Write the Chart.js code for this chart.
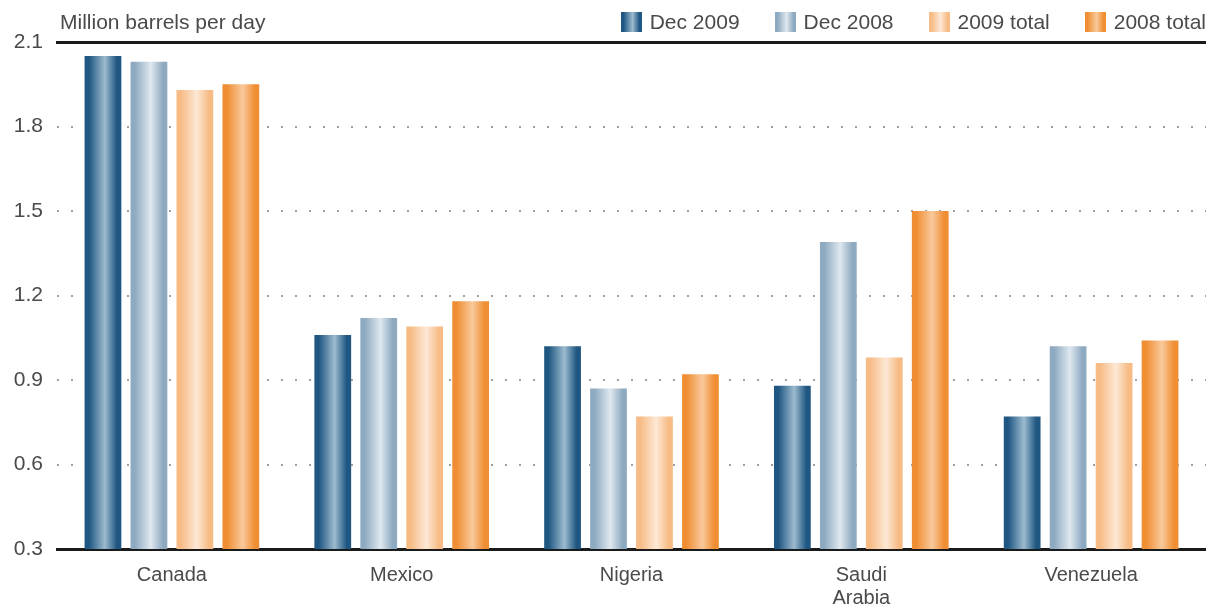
<!DOCTYPE html>
<html>
<head>
<meta charset="utf-8">
<script src="https://cdn.jsdelivr.net/npm/chart.js@4"></script>
<style>
  body { margin: 0; background: #fff; font-family: "Liberation Sans", Arial, sans-serif; }
  #wrap { position: relative; width: 1206px; height: 607px; }
  #unit { position: absolute; left: 60px; top: 10px; font-size: 21px; color: #4a4a4a; }
  #legend { position: absolute; right: 0; top: 10px; display: flex; font-size: 21px; color: #4a4a4a; }
  #legend .item { display: flex; align-items: center; margin-left: 35px; }
  #legend .box { width: 21px; height: 20px; margin-right: 8px; }
</style>
</head>
<body>
<div id="wrap">
  <canvas id="chart" width="1206" height="607"></canvas>
  <div id="unit">Million barrels per day</div>
  <div id="legend"></div>
</div>
<script>
const countries = ['Canada', 'Mexico', 'Nigeria', ['Saudi', 'Arabia'], 'Venezuela'];
const dec2009 = [2.05, 1.06, 1.02, 0.88, 0.77];
const dec2008 = [2.03, 1.12, 0.87, 1.39, 1.02];
const total2009 = [1.93, 1.09, 0.77, 0.98, 0.96];
const total2008 = [1.95, 1.18, 0.92, 1.50, 1.04];
const yTicks = [0.3, 0.6, 0.9, 1.2, 1.5, 1.8, 2.1];

// edge / centre colours for the shaded bars
const shades = {
  'Dec 2009':   ['#1f5782', '#9dbbcf'],
  'Dec 2008':   ['#8eaac1', '#dfe8ef'],
  '2009 total': ['#f7bc86', '#fde8d6'],
  '2008 total': ['#ef8e33', '#f9c99c'],
};

function stops(name) {
  const [edge, mid] = shades[name];
  return [[0, edge], [0.12, edge], [0.55, mid], [0.88, edge], [1, edge]];
}

function barFill(name) {
  return ctx => {
    const el = ctx.element;
    if (!el || el.x === undefined || !el.width) return shades[name][0];
    const g = ctx.chart.ctx.createLinearGradient(el.x - el.width / 2, 0, el.x + el.width / 2, 0);
    stops(name).forEach(([p, c]) => g.addColorStop(p, c));
    return g;
  };
}

const series = [
  { label: 'Dec 2009', data: dec2009 },
  { label: 'Dec 2008', data: dec2008 },
  { label: '2009 total', data: total2009 },
  { label: '2008 total', data: total2008 },
];

document.getElementById('legend').innerHTML = series.map(s => {
  const css = stops(s.label).map(([p, c]) => `${c} ${p * 100}%`).join(', ');
  return `<div class="item"><div class="box" style="background: linear-gradient(to right, ${css});"></div><span>${s.label}</span></div>`;
}).join('');

const chart = new Chart(document.getElementById('chart'), {
  type: 'bar',
  data: {
    labels: countries,
    datasets: series.map(s => ({
      label: s.label,
      data: s.data,
      backgroundColor: barFill(s.label),
      borderWidth: 0,
      categoryPercentage: 0.8,
      barPercentage: 0.8,
    })),
  },
  options: {
    responsive: false,
    animation: false,
    layout: { padding: { top: 42, left: 0, right: 0, bottom: 0 } },
    plugins: { legend: { display: false }, tooltip: { enabled: false } },
    scales: {
      x: {
        grid: { display: false, drawTicks: false },
        border: { display: true, color: '#1a1a1a', width: 3 },
        ticks: {
          color: '#4a4a4a',
          font: { family: 'Liberation Sans', size: 20, lineHeight: 1.15 },
          padding: 15,
        },
        afterFit: axis => { axis.height = 58; },
      },
      xTop: {
        type: 'category',
        position: 'top',
        grid: { display: false, drawTicks: false },
        border: { display: true, color: '#1a1a1a', width: 3 },
        ticks: { display: false },
      },
      y: {
        min: 0.3,
        max: 2.1,
        afterBuildTicks: axis => { axis.ticks = yTicks.map(v => ({ value: v })); },
        afterFit: axis => { axis.width = 57; },
        grid: {
          drawTicks: false,
          lineWidth: 2,
          color: c => (c.tick && (c.tick.value === 0.3 || c.tick.value === 2.1)) ? 'rgba(0,0,0,0)' : '#a0a0a0',
        },
        border: { display: false, dash: [2, 12] },
        ticks: {
          color: '#4a4a4a',
          font: { family: 'Liberation Sans', size: 21 },
          padding: 14,
          callback: v => Number(v).toFixed(1),
        },
      },
    },
  },
});
// second pass so each bar's gradient follows its laid-out position
chart.update('none');
</script>
</body>
</html>
